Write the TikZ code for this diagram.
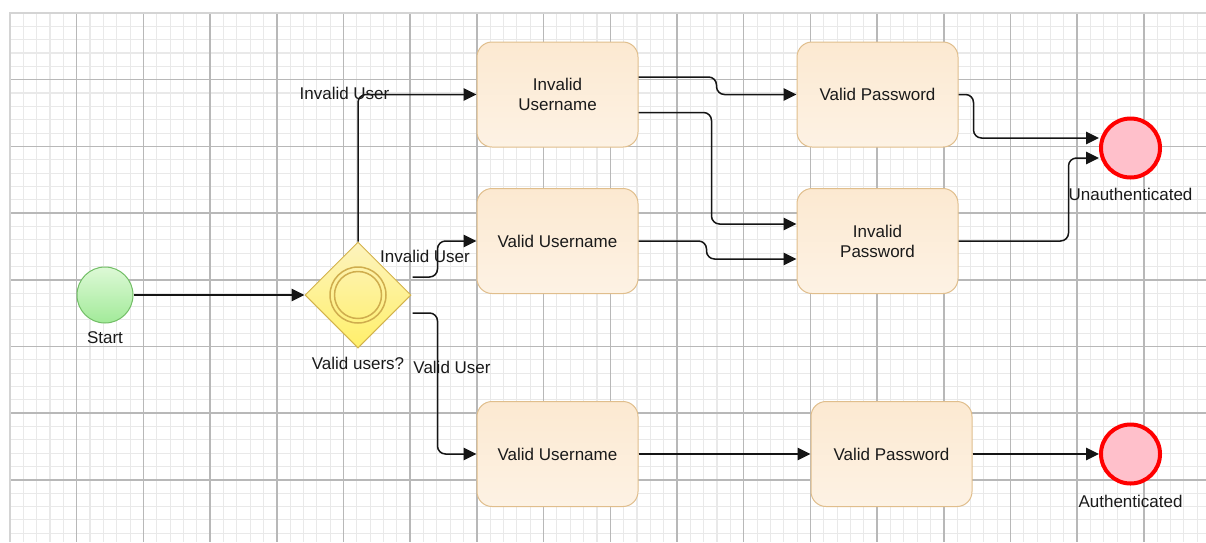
\documentclass[tikz,border=0pt]{standalone}
\usepackage{fontspec}
\setmainfont{Liberation Sans}
\usetikzlibrary{shapes.geometric,arrows.meta,calc}

\definecolor{gridminor}{HTML}{E9E9E9}
\definecolor{gridmajor}{HTML}{B8B8B8}
\definecolor{gridedge}{HTML}{D4D4D4}
\definecolor{textc}{HTML}{1A1A1A}
\definecolor{flowc}{HTML}{151515}
\definecolor{tasktop}{HTML}{FCE9D1}
\definecolor{taskbot}{HTML}{FDF2E4}
\definecolor{taskline}{HTML}{E0BE8C}
\definecolor{gwtop}{HTML}{FDF3BE}
\definecolor{gwbot}{HTML}{FFF06A}
\definecolor{gwline}{HTML}{D3B24C}
\definecolor{gwring}{HTML}{CFAD4E}
\definecolor{starttop}{HTML}{DDF9D6}
\definecolor{startbot}{HTML}{A2EA99}
\definecolor{startline}{HTML}{72BE66}
\definecolor{endfill}{HTML}{FFC0CB}
\definecolor{endline}{HTML}{FF0000}

\tikzset{
  minorline/.style={draw=gridminor, line width=1.1pt},
  majorline/.style={draw=gridmajor, line width=1.5pt},
  edgeline/.style={draw=gridedge, line width=1.5pt},
  task/.style={rectangle, rounded corners=15pt, minimum width=161pt,
    minimum height=105pt, draw=taskline, line width=1pt,
    top color=tasktop, bottom color=taskbot, align=center, text=textc,
    inner sep=2pt},
  startevt/.style={circle, minimum size=56pt, inner sep=0pt, draw=startline,
    line width=1pt, top color=starttop, bottom color=startbot},
  endevt/.style={circle, minimum size=59pt, inner sep=0pt, draw=endline,
    line width=4pt, fill=endfill},
  gateway/.style={diamond, minimum width=106pt, minimum height=106pt,
    inner sep=0pt, aspect=1, draw=gwline, line width=1pt,
    top color=gwtop, bottom color=gwbot},
  ring/.style={circle, inner sep=0pt, draw=gwring, line width=1.5pt},
  flow/.style={draw=flowc, line width=1.5pt, rounded corners=8pt,
    -{Triangle[length=13pt,width=12.5pt]}},
  lbl/.style={text=textc, inner sep=0pt}
}

\begin{document}
\begin{tikzpicture}[x=1pt, y=-1pt, font=\fontsize{17}{20}\selectfont]
  \useasboundingbox (0,0) rectangle (1206,542);
  \fill[white] (0,0) rectangle (1206,542);

  % background grid
  \begin{scope}
    \clip (0,0) rectangle (1206,542);
    \foreach \i in {1,...,90} {
      \pgfmathsetmacro\xx{10+13.34*\i}
      \draw[minorline] (\xx,13) -- (\xx,542);
    }
    \foreach \j in {1,...,40} {
      \pgfmathsetmacro\yy{13+13.34*\j}
      \draw[minorline] (10,\yy) -- (1206,\yy);
    }
    \foreach \i in {1,...,17} {
      \pgfmathsetmacro\xx{10+66.7*\i}
      \draw[majorline] (\xx,13) -- (\xx,542);
    }
    \foreach \j in {1,...,7} {
      \pgfmathsetmacro\yy{13+66.7*\j}
      \draw[majorline] (10,\yy) -- (1206,\yy);
    }
    \draw[edgeline] (10,542) -- (10,13) -- (1206,13);
  \end{scope}

  % events and gateway
  \node[startevt] (start) at (105,295) {};
  \node[gateway] (gw) at (358,295) {};
  \node[ring, minimum size=56pt] (gwouter) at (gw.center) {};
  \node[ring, minimum size=47pt] (gwinner) at (gw.center) {};
  \node[endevt] (unauth) at (1130.5,148) {};
  \node[endevt] (auth) at (1130.5,454) {};

  % tasks
  \node[task] (b1) at (557.5,94.5) {Invalid\\Username};
  \node[task] (b2) at (557.5,241) {Valid Username};
  \node[task] (b3) at (557.5,454) {Valid Username};
  \node[task] (b4) at (877.5,94.5) {Valid Password};
  \node[task] (b5) at (877.5,241) {Invalid\\Password};
  \node[task] (b6) at (891.5,454) {Valid Password};

  % sequence flows
  \draw[flow] (start.east) -- (gw.west);
  \draw[flow] (gw.north) |- (b1.west);
  \draw[flow] ($(gw.east)+(1,-18)$) -- ++(25,0) |- (b2.west);
  \draw[flow] ($(gw.east)+(1,18)$) -- ++(25,0) |- (b3.west);
  \draw[flow] ($(b1.east)+(0,-17.5)$) -- ++(78,0) |- (b4.west);
  \draw[flow] ($(b1.east)+(0,18)$) -- ++(73,0) |- ($(b5.west)+(0,-17)$);
  \draw[flow] (b2.east) -- ++(68,0) |- ($(b5.west)+(0,18)$);
  \draw[flow] (b4.east) -- ++(15,0) |- ($(unauth.west)+(0,-10)$);
  \draw[flow] (b5.east) -- ++(110,0) |- ($(unauth.west)+(0,10)$);
  \draw[flow] (b3.east) -- (b6.west);
  \draw[flow] (b6.east) -- (auth.west);

  % labels
  \node[lbl] (lstart) at (105,338) {Start};
  \node[lbl] (lgw) at (358,363) {Valid users?};
  \node[lbl] (linv1) at (344.5,93) {Invalid User};
  \node[lbl] (linv2) at (425,256) {Invalid User};
  \node[lbl] (lvalid) at (452,367) {Valid User};
  \node[lbl] (lunauth) at (1130.5,194) {Unauthenticated};
  \node[lbl] (lauth) at (1130.5,501) {Authenticated};
\end{tikzpicture}
\end{document}
